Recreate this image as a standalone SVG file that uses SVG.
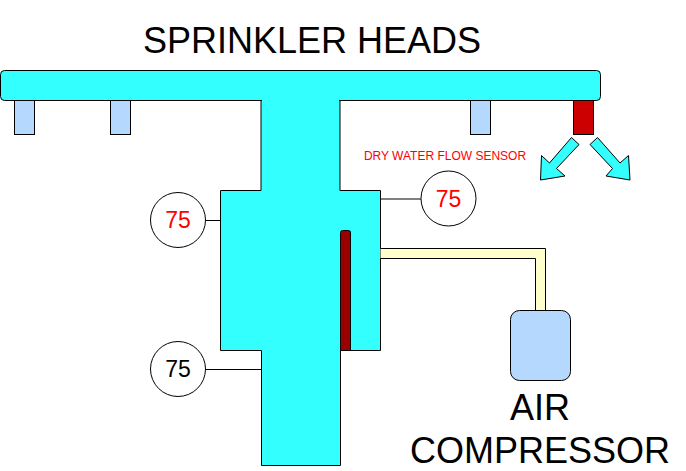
<svg xmlns="http://www.w3.org/2000/svg" width="686" height="471" viewBox="0 0 686 471">
<style>
text{font-family:"Liberation Sans",Arial,sans-serif;text-anchor:middle;fill:#000}
.s{stroke:#000;stroke-width:1}
.w{fill:#3ff}
.b{fill:#b5d8ff}
.l{stroke:#000;stroke-width:1;fill:none}
.c{fill:#fff;stroke:#000;stroke-width:1}
.n{font-size:23px}
.big{font-size:36px}
</style>
<rect width="686" height="471" fill="#fff"/>
<g id="sprinkler-heads-label"><text x="312" y="53" class="big">SPRINKLER HEADS</text></g>
<g id="head-1"><rect x="14.500" y="100.500" width="20" height="34" class="s b"/></g>
<g id="head-2"><rect x="110.500" y="100.500" width="20" height="34" class="s b"/></g>
<g id="head-3"><rect x="470.500" y="100.500" width="20" height="34" class="s b"/></g>
<g id="head-4"><rect x="573.500" y="100.500" width="20" height="34" class="s" fill="#c00"/></g>
<g id="pipe">
<path d="M220.500 190.500H261V100H340V190.500H380.500V350.500H340.500V465.500H261.500V350.500H220.500Z" class="s w"/>
<rect x="0.500" y="70.500" width="600" height="30" rx="4" ry="4" class="s w"/>
<rect x="262" y="99" width="77" height="3" class="w"/>
</g>
<g id="air-line">
<path d="M380.500 248.500H545.500V310.500H535.500V258.500H380.500Z" fill="#ffc" stroke="none"/>
<path d="M380.500 248.500H545.500V310.500M535.500 310.500V258.500H380.500" class="l"/>
</g>
<g id="flow-sensor"><path d="M340.500 232.500a2 2 0 0 1 2-2h6a2 2 0 0 1 2 2V350.500H340.500Z" class="s" fill="#900"/></g>
<g id="compressor"><rect x="510.500" y="310.500" width="60" height="70" rx="9" ry="9" class="s b"/>
<text x="540" y="420" class="big">AIR</text><text x="540" y="463" class="big">COMPRESSOR</text></g>
<g id="connectors">
<path d="M206 220.500H220M206 369.500H261M381 199H421" class="l"/>
</g>
<g id="gauge-1"><circle cx="178" cy="220" r="27.500" class="c"/><text x="178" y="228" class="n" style="fill:#f00">75</text></g>
<g id="gauge-2"><circle cx="178" cy="369" r="27.500" class="c"/><text x="178" y="377" class="n">75</text></g>
<g id="gauge-3"><circle cx="448.500" cy="198.500" r="27.500" class="c"/><text x="448.500" y="206.500" class="n" style="fill:#f00">75</text></g>
<g id="sensor-label"><text x="445" y="160" font-size="12" style="fill:#f00">DRY WATER FLOW SENSOR</text></g>
<g id="spray-left"><path d="M571.500 137.500L579 144.500L556.500 168.500L565 176L540.500 180L541.500 155.500L549.500 163Z" class="s w"/></g>
<g id="spray-right"><path d="M597.500 137.500L590 144.500L612.500 168.500L606 176L630 180L628.500 155.500L620 163Z" class="s w"/></g>
</svg>
